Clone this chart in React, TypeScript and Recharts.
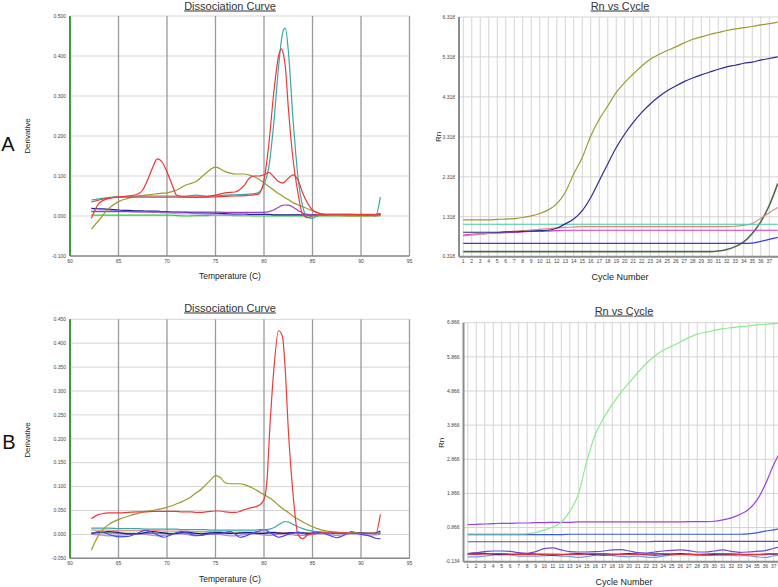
import React from 'react';
import { LineChart, Line, XAxis, YAxis, CartesianGrid } from 'recharts';

// ---------- Panel A : Dissociation curve ----------
const tempA = [62.2,63,64,65,66,67,67.5,68,68.5,69,69.5,70,70.5,71,72,73,74,75,76,77,78,78.5,79,79.5,80,80.5,81,81.5,81.8,82,82.2,82.5,83,83.5,84,84.5,85,85.5,86,87,88,89,90,91,91.5,92];
const aTeal = [0.040,0.043,0.046,0.048,0.049,0.050,0.050,0.050,0.050,0.050,0.050,0.050,0.050,0.050,0.050,0.052,0.050,0.050,0.052,0.053,0.054,0.055,0.056,0.060,0.078,0.123,0.230,0.373,0.440,0.465,0.470,0.415,0.240,0.098,0.023,-0.003,-0.006,0.000,0.003,0.003,0.003,0.003,0.002,0.002,0.000,0.047];
const aRedPeak = [-0.006,0.032,0.044,0.047,0.047,0.047,0.047,0.047,0.047,0.047,0.047,0.047,0.047,0.047,0.047,0.047,0.047,0.048,0.049,0.050,0.051,0.052,0.053,0.056,0.090,0.180,0.307,0.400,0.418,0.405,0.373,0.273,0.140,0.057,0.003,-0.004,0.000,0.003,0.004,0.004,0.004,0.004,0.004,0.004,0.004,0.006];
const aRedMulti = [0.035,0.040,0.045,0.048,0.050,0.055,0.065,0.090,0.120,0.143,0.135,0.110,0.080,0.052,0.047,0.047,0.048,0.052,0.058,0.060,0.078,0.095,0.100,0.100,0.103,0.109,0.098,0.086,0.083,0.083,0.087,0.094,0.103,0.090,0.057,0.032,0.015,0.008,0.005,0.004,0.004,0.004,0.003,0.003,0.003,0.004];
const aOlive = [-0.033,-0.010,0.019,0.036,0.044,0.050,0.051,0.053,0.054,0.056,0.057,0.058,0.061,0.065,0.078,0.086,0.107,0.122,0.111,0.105,0.105,0.102,0.098,0.091,0.083,0.074,0.065,0.056,0.052,0.048,0.045,0.041,0.033,0.028,0.023,0.018,0.013,0.009,0.005,0.002,0.001,0.000,0.000,0.000,0.000,0.001];
const aPurple = [0.011,0.011,0.011,0.011,0.011,0.010,0.010,0.010,0.010,0.010,0.010,0.010,0.010,0.010,0.010,0.010,0.010,0.010,0.009,0.009,0.009,0.009,0.009,0.009,0.009,0.011,0.015,0.022,0.026,0.027,0.0275,0.027,0.022,0.014,0.007,0.004,0.003,0.003,0.003,0.003,0.003,0.003,0.003,0.003,0.003,0.003];
const aNavy = [0.019,0.018,0.017,0.015,0.014,0.013,0.013,0.012,0.012,0.012,0.011,0.011,0.010,0.010,0.009,0.008,0.008,0.007,0.006,0.005,0.005,0.004,0.004,0.004,0.004,0.004,0.003,0.003,0.003,0.003,0.003,0.003,0.003,0.003,0.003,0.003,0.003,0.003,0.003,0.003,0.003,0.003,0.003,0.003,0.003,0.006];
const aLavender = [0.015,0.015,0.014,0.013,0.012,0.011,0.010,0.010,0.009,0.009,0.008,0.008,0.007,0.006,0.005,0.005,0.004,0.003,0.003,0.003,0.002,0.002,0.002,0.002,0.002,0.002,0.002,0.002,0.002,0.002,0.002,0.002,0.002,0.002,0.002,0.002,0.002,0.002,0.002,0.002,0.002,0.002,0.002,0.002,0.002,0.002];
const aGreen = [0.002,0.002,0.002,0.002,0.002,0.002,0.002,0.002,0.002,0.002,0.002,0.002,0.002,0.001,0.000,0.001,0.001,0.002,0.002,0.001,0.001,0.001,0.000,0.000,0.000,0.000,0.000,0.000,0.000,0.000,0.000,0.000,0.000,0.000,0.000,0.000,0.000,0.000,0.000,0.000,0.000,0.000,0.000,0.001,0.001,0.001];
const dissTempTicks = [60,65,70,75,80,85,90,95];
const dissATicks = [-0.1,0,0.1,0.2,0.3,0.4,0.5];

// ---------- Panel B : Dissociation curve ----------
const tempB = [62.2,63,63.5,64,65,66,67,67.8,68.5,69,69.7,70.5,71,71.5,72,72.5,73,73.5,74,74.5,75,75.5,76,76.5,77,77.5,78,78.5,79,79.5,80,80.3,80.6,81,81.5,81.9,82.2,82.5,83,83.5,84,84.5,85,85.5,86,86.5,87,87.5,88,88.5,89,90,91,91.5,92];
const bRed = [0.033,0.042,0.044,0.045,0.045,0.046,0.047,0.047,0.048,0.048,0.048,0.048,0.048,0.047,0.047,0.047,0.046,0.046,0.047,0.048,0.049,0.049,0.047,0.046,0.046,0.048,0.052,0.055,0.057,0.061,0.073,0.111,0.222,0.341,0.426,0.414,0.341,0.222,0.083,0.000,-0.009,-0.001,0.001,0.002,0.003,0.003,0.003,0.003,0.003,0.003,0.002,0.002,0.002,0.001,0.042];
const bOlive = [-0.033,0.000,0.012,0.021,0.031,0.038,0.044,0.048,0.050,0.052,0.055,0.060,0.064,0.068,0.073,0.079,0.087,0.094,0.104,0.114,0.123,0.119,0.108,0.106,0.106,0.106,0.104,0.100,0.095,0.089,0.083,0.080,0.076,0.070,0.061,0.054,0.050,0.046,0.038,0.032,0.026,0.021,0.016,0.012,0.009,0.007,0.006,0.005,0.004,0.003,0.003,0.002,0.002,0.002,0.002];
const bTeal = [0.013,0.013,0.013,0.013,0.012,0.012,0.012,0.011,0.011,0.011,0.011,0.011,0.011,0.010,0.010,0.010,0.010,0.010,0.010,0.009,0.009,0.009,0.009,0.009,0.009,0.009,0.009,0.009,0.009,0.010,0.010,0.010,0.011,0.014,0.020,0.025,0.027,0.026,0.021,0.016,0.012,0.009,0.007,0.006,0.005,0.004,0.004,0.003,0.003,0.003,0.003,0.002,0.002,0.002,0.002];
const bPink = [0.009,0.009,0.009,0.009,0.008,0.008,0.008,0.008,0.008,0.008,0.007,0.007,0.007,0.007,0.007,0.006,0.006,0.006,0.006,0.006,0.006,0.006,0.005,0.005,0.005,0.005,0.005,0.005,0.005,0.005,0.005,0.005,0.005,0.005,0.004,0.004,0.004,0.004,0.004,0.004,0.004,0.003,0.003,0.003,0.003,0.003,0.003,0.003,0.003,0.003,0.003,0.003,0.003,0.002,0.002];
const bBlue = [0.001,0.006,0.004,0.000,-0.005,-0.004,0.003,0.009,0.004,-0.001,-0.006,0.000,0.004,0.006,0.004,0.000,-0.002,-0.002,0.000,0.001,0.001,0.002,0.004,0.006,0.001,-0.006,-0.004,0.000,0.004,0.007,0.010,0.008,0.004,-0.001,-0.006,-0.004,-0.002,0.000,0.003,0.005,0.003,0.000,0.003,0.006,0.004,0.000,-0.004,-0.007,-0.004,0.001,0.006,0.000,-0.004,-0.008,-0.009];
const bNavy = [0.002,0.004,0.005,0.006,0.004,0.001,0.001,0.004,0.006,0.005,0.003,0.001,0.002,0.004,0.005,0.004,0.002,0.001,0.002,0.003,0.004,0.004,0.003,0.002,0.002,0.003,0.004,0.004,0.003,0.002,0.002,0.003,0.004,0.004,0.003,0.002,0.002,0.003,0.004,0.004,0.003,0.002,0.002,0.003,0.004,0.004,0.003,0.002,0.002,0.003,0.004,0.003,0.002,0.003,0.007];
const bGreen = [0.003,0.003,0.003,0.003,0.002,0.002,0.002,0.002,0.002,0.002,0.002,0.002,0.002,0.002,0.002,0.002,0.002,0.002,0.002,0.002,0.002,0.002,0.002,0.002,0.002,0.002,0.002,0.002,0.002,0.002,0.002,0.002,0.002,0.002,0.002,0.002,0.002,0.002,0.002,0.002,0.002,0.002,0.002,0.002,0.002,0.002,0.002,0.002,0.002,0.002,0.002,0.002,0.002,0.003,0.004];
const bLavender = [0.000,-0.001,-0.002,-0.003,-0.002,0.000,0.001,0.000,-0.002,-0.003,-0.002,0.000,0.001,0.001,0.000,-0.002,-0.003,-0.002,0.000,0.001,0.001,0.000,-0.002,-0.003,-0.003,-0.002,0.000,0.001,0.001,0.000,-0.001,-0.002,-0.002,-0.001,0.000,0.001,0.001,0.000,-0.001,-0.002,-0.002,-0.001,0.000,0.001,0.001,0.000,-0.001,-0.002,-0.001,0.000,0.001,0.000,-0.001,-0.001,0.000];
const dissBTicks = [-0.05,0,0.05,0.1,0.15,0.2,0.25,0.3,0.35,0.4,0.45];

// ---------- Rn vs Cycle ----------
const cycles = [1,2,3,4,5,6,7,8,9,10,11,12,13,14,15,16,17,18,19,20,21,22,23,24,25,26,27,28,29,30,31,32,33,34,35,36,37,38];
const cycleTicks = [1,2,3,4,5,6,7,8,9,10,11,12,13,14,15,16,17,18,19,20,21,22,23,24,25,26,27,28,29,30,31,32,33,34,35,36,37];

const rnAOlive = [1.24,1.24,1.24,1.24,1.25,1.26,1.27,1.30,1.34,1.40,1.49,1.64,1.93,2.39,2.80,3.34,3.76,4.09,4.43,4.68,4.89,5.09,5.26,5.38,5.48,5.57,5.67,5.76,5.82,5.88,5.93,5.98,6.02,6.05,6.08,6.12,6.15,6.19];
const rnANavy = [0.93,0.93,0.93,0.93,0.93,0.94,0.94,0.95,0.96,0.97,0.98,1.03,1.14,1.26,1.47,1.80,2.22,2.64,3.05,3.39,3.68,3.93,4.14,4.32,4.47,4.59,4.70,4.79,4.87,4.94,5.01,5.07,5.11,5.16,5.19,5.24,5.28,5.32];
const rnATeal = [1.13,1.13,1.13,1.13,1.13,1.13,1.13,1.13,1.13,1.13,1.13,1.13,1.13,1.13,1.13,1.13,1.13,1.13,1.13,1.13,1.13,1.13,1.13,1.13,1.13,1.13,1.13,1.13,1.13,1.13,1.13,1.13,1.13,1.13,1.13,1.13,1.13,1.13];
const rnARose = [0.84,0.86,0.88,0.90,0.92,0.94,0.96,0.97,0.985,1.0,1.02,1.04,1.05,1.06,1.07,1.07,1.07,1.07,1.07,1.07,1.07,1.07,1.07,1.07,1.07,1.07,1.07,1.07,1.07,1.07,1.07,1.07,1.08,1.10,1.15,1.28,1.42,1.55];
const rnAMagenta = [0.86,0.88,0.89,0.90,0.91,0.92,0.93,0.94,0.95,0.95,0.96,0.97,0.98,0.98,0.98,0.98,0.98,0.98,0.98,0.98,0.98,0.98,0.98,0.98,0.98,0.98,0.98,0.98,0.98,0.98,0.98,0.98,0.98,0.98,0.98,0.98,0.98,0.98];
const rnABlue = [0.65,0.65,0.65,0.65,0.65,0.65,0.65,0.65,0.65,0.65,0.65,0.65,0.65,0.65,0.65,0.65,0.65,0.65,0.65,0.65,0.65,0.65,0.65,0.65,0.65,0.65,0.65,0.65,0.65,0.65,0.65,0.65,0.65,0.65,0.66,0.70,0.75,0.80];
const rnADarkGreen = [0.445,0.445,0.445,0.445,0.445,0.445,0.445,0.445,0.445,0.445,0.445,0.445,0.445,0.445,0.445,0.445,0.445,0.445,0.445,0.445,0.445,0.445,0.445,0.445,0.445,0.445,0.445,0.445,0.445,0.445,0.46,0.50,0.57,0.69,0.90,1.19,1.60,2.15];
const rnATicks = [0.318,1.318,2.318,3.318,4.318,5.318,6.318];

const rnBGreen = [0.68,0.68,0.68,0.68,0.68,0.68,0.68,0.69,0.72,0.79,0.88,1.02,1.34,1.83,2.81,3.59,4.08,4.47,4.82,5.11,5.40,5.67,5.89,6.06,6.18,6.30,6.43,6.53,6.59,6.64,6.69,6.72,6.75,6.77,6.80,6.82,6.84,6.85];
const rnBPurple = [0.95,0.96,0.97,0.98,0.99,0.99,1.00,1.00,1.01,1.01,1.02,1.02,1.02,1.03,1.03,1.03,1.03,1.03,1.03,1.03,1.03,1.03,1.03,1.03,1.03,1.03,1.04,1.04,1.04,1.05,1.09,1.15,1.25,1.39,1.66,2.13,2.71,3.20];
const rnBBlue = [0.66,0.66,0.66,0.66,0.66,0.66,0.66,0.66,0.66,0.66,0.66,0.66,0.67,0.67,0.67,0.67,0.67,0.67,0.67,0.67,0.67,0.67,0.67,0.67,0.67,0.67,0.67,0.67,0.67,0.67,0.67,0.67,0.67,0.68,0.71,0.76,0.80,0.84];
const rnBGrayPurple = [0.45,0.45,0.45,0.45,0.45,0.45,0.45,0.45,0.45,0.45,0.45,0.45,0.45,0.45,0.45,0.45,0.45,0.45,0.45,0.45,0.45,0.45,0.46,0.46,0.46,0.46,0.46,0.46,0.46,0.46,0.46,0.46,0.46,0.46,0.46,0.46,0.46,0.46];
const rnBViolet = [0.10,0.13,0.16,0.18,0.18,0.17,0.13,0.11,0.16,0.25,0.27,0.21,0.16,0.15,0.15,0.16,0.18,0.21,0.22,0.18,0.13,0.12,0.15,0.18,0.20,0.21,0.19,0.15,0.15,0.18,0.21,0.17,0.14,0.15,0.17,0.19,0.26,0.30];
const rnBRed = [0.08,0.08,0.09,0.10,0.10,0.09,0.08,0.08,0.08,0.09,0.09,0.08,0.08,0.08,0.09,0.10,0.10,0.09,0.08,0.08,0.08,0.09,0.10,0.10,0.09,0.08,0.08,0.08,0.09,0.10,0.10,0.09,0.08,0.08,0.08,0.09,0.10,0.10];
const rnBNavy = [0.10,0.12,0.11,0.09,0.07,0.07,0.09,0.10,0.09,0.07,0.06,0.07,0.09,0.10,0.09,0.07,0.06,0.07,0.09,0.10,0.09,0.07,0.06,0.07,0.09,0.10,0.09,0.07,0.07,0.08,0.09,0.09,0.08,0.07,0.07,0.08,0.09,0.10];
const rnBLightBlue = [0.01,0.01,0.03,0.06,0.08,0.08,0.03,0.03,0.03,0.04,0.05,0.03,0.02,-0.01,0.02,0.06,0.08,0.05,0.02,0.01,0.03,0.00,-0.01,0.03,0.06,0.08,0.07,0.06,0.05,0.05,0.05,0.05,0.04,0.04,0.01,-0.01,0.04,0.06];
const rnBTicks = [-0.134,0.866,1.866,2.866,3.866,4.866,5.866,6.866];

// ---------- helpers ----------
type Series = { key: string; color: string; values: number[]; width?: number };

const buildRows = (xs: number[], series: Series[]) =>
  xs.map((x, i) => {
    const row: Record<string, number> = { x };
    series.forEach((s) => { row[s.key] = s.values[i]; });
    return row;
  });

const FONT = '"Liberation Sans", Arial, Helvetica, sans-serif';
const tickStyle = { fontSize: 5, fill: '#444', fontFamily: FONT };

const seriesDissA: Series[] = [
  { key: 'green', color: '#2fd02f', values: aGreen },
  { key: 'lavender', color: '#b0a4e4', values: aLavender },
  { key: 'navy', color: '#22229a', values: aNavy },
  { key: 'purple', color: '#9a3ec8', values: aPurple },
  { key: 'olive', color: '#9c9a2c', values: aOlive },
  { key: 'teal', color: '#3aa6a6', values: aTeal },
  { key: 'redMulti', color: '#ee3434', values: aRedMulti },
  { key: 'redPeak', color: '#f03a3a', values: aRedPeak },
];
const seriesDissB: Series[] = [
  { key: 'lavender', color: '#b08ae0', values: bLavender },
  { key: 'green', color: '#30c030', values: bGreen },
  { key: 'pink', color: '#f09090', values: bPink },
  { key: 'navy', color: '#1a1a80', values: bNavy },
  { key: 'blue', color: '#4848ee', values: bBlue },
  { key: 'teal', color: '#3aa6a6', values: bTeal },
  { key: 'olive', color: '#9c9a2c', values: bOlive },
  { key: 'red', color: '#f03a3a', values: bRed },
];
const seriesRnA: Series[] = [
  { key: 'darkGreen', color: '#4c6a4c', values: rnADarkGreen, width: 1.6 },
  { key: 'blue', color: '#3a3ae0', values: rnABlue },
  { key: 'magenta', color: '#d834c4', values: rnAMagenta },
  { key: 'rose', color: '#d88a8a', values: rnARose },
  { key: 'teal', color: '#44c89c', values: rnATeal },
  { key: 'navy', color: '#2c2c8c', values: rnANavy },
  { key: 'olive', color: '#9c9a30', values: rnAOlive },
];
const seriesRnB: Series[] = [
  { key: 'lightBlue', color: '#6f9cf0', values: rnBLightBlue },
  { key: 'navy', color: '#1e1e78', values: rnBNavy },
  { key: 'red', color: '#ee3030', values: rnBRed },
  { key: 'violet', color: '#6a4cd4', values: rnBViolet },
  { key: 'grayPurple', color: '#6a4c9a', values: rnBGrayPurple },
  { key: 'blue', color: '#3a5ae0', values: rnBBlue },
  { key: 'purple', color: '#9a40e6', values: rnBPurple },
  { key: 'green', color: '#8aec8a', values: rnBGreen },
];

type ChartProps = {
  left: number; top: number; width: number; height: number;
  plotLeft: number; plotTop: number; plotRight: number; plotBottom: number;
  xs: number[]; series: Series[];
  xDomain: [number, number]; xTicks: number[];
  yDomain: [number, number]; yTicks: number[];
  kind: 'diss' | 'rn';
};

const Panel = ({ left, top, width, height, plotLeft, plotTop, plotRight, plotBottom, xs, series, xDomain, xTicks, yDomain, yTicks, kind }: ChartProps) => {
  const rows = buildRows(xs, series);
  const isDiss = kind === 'diss';
  return (
    <div style={{ position: 'absolute', left, top, width, height }}>
      <LineChart width={width} height={height} data={rows} margin={{ top: plotTop, right: plotRight, left: 0, bottom: 0 }}>
        {isDiss ? (
          <>
            <CartesianGrid horizontal={true} vertical={false} stroke="#d6d6d6" strokeWidth={1} />
            <CartesianGrid horizontal={false} vertical={true} stroke="#9a9a9a" strokeWidth={1.3} />
          </>
        ) : (
          <CartesianGrid stroke="#d4d4d4" strokeWidth={1} />
        )}
        <XAxis
          type="number"
          dataKey="x"
          domain={xDomain}
          ticks={xTicks}
          interval={0}
          height={plotBottom}
          tickLine={false}
          tickSize={0}
          tickMargin={3}
          axisLine={{ stroke: isDiss ? '#8a8a8a' : '#8c8c8c', strokeWidth: isDiss ? 1.5 : 2 }}
          tick={tickStyle}
          allowDataOverflow
        />
        <YAxis
          type="number"
          domain={yDomain}
          ticks={yTicks}
          interval={0}
          width={plotLeft}
          tickLine={false}
          tickSize={0}
          tickMargin={4}
          axisLine={{ stroke: isDiss ? '#3c9c3c' : '#8c8c8c', strokeWidth: 2 }}
          tick={tickStyle}
          tickFormatter={(v: number) => v.toFixed(3)}
          allowDataOverflow
        />
        {series.map((s) => (
          <Line
            key={s.key}
            type="monotone"
            dataKey={s.key}
            stroke={s.color}
            strokeWidth={s.width ?? 1.2}
            dot={false}
            isAnimationActive={false}
          />
        ))}
      </LineChart>
    </div>
  );
};

const Txt = ({ x, y, size, children, rotate, underline, color }: any) => (
  <div
    style={{
      position: 'absolute', left: x, top: y,
      transform: `translate(-50%, -50%)${rotate ? ' rotate(-90deg)' : ''}`,
      fontSize: size, fontFamily: FONT, color: color ?? '#222',
      whiteSpace: 'nowrap', lineHeight: 1,
      textDecoration: underline ? 'underline' : 'none',
    }}
  >
    {children}
  </div>
);

export default function App() {
  return (
    <div style={{ position: 'fixed', left: 0, top: 0, width: 778, height: 587, overflow: 'hidden', background: '#fff' }}>
      {/* Panel A dissociation */}
      <Panel
        left={0} top={0} width={420} height={290}
        plotLeft={70} plotTop={16} plotRight={10.5} plotBottom={34}
        xs={tempA} series={seriesDissA}
        xDomain={[60, 95]} xTicks={dissTempTicks}
        yDomain={[-0.1, 0.5]} yTicks={dissATicks} kind="diss"
      />
      {/* Panel B dissociation */}
      <Panel
        left={0} top={295} width={420} height={292}
        plotLeft={70} plotTop={24.3} plotRight={10.5} plotBottom={28.7}
        xs={tempB} series={seriesDissB}
        xDomain={[60, 95]} xTicks={dissTempTicks}
        yDomain={[-0.05, 0.45]} yTicks={dissBTicks} kind="diss"
      />
      {/* Panel A Rn */}
      <Panel
        left={380} top={0} width={440} height={290}
        plotLeft={79} plotTop={17} plotRight={21} plotBottom={33.3}
        xs={cycles} series={seriesRnA}
        xDomain={[0.5, 40.5]} xTicks={cycleTicks}
        yDomain={[0.318, 6.318]} yTicks={rnATicks} kind="rn"
      />
      {/* Panel B Rn */}
      <Panel
        left={380} top={295} width={440} height={292}
        plotLeft={83.5} plotTop={27.7} plotRight={16.5} plotBottom={25.3}
        xs={cycles} series={seriesRnB}
        xDomain={[0.5, 40.5]} xTicks={cycleTicks}
        yDomain={[-0.134, 6.866]} yTicks={rnBTicks} kind="rn"
      />

      <Txt x={230} y={6} size={11} underline color="#333">Dissociation Curve</Txt>
      <Txt x={620} y={6} size={11} underline color="#333">Rn vs Cycle</Txt>
      <Txt x={230} y={308} size={11} underline color="#333">Dissociation Curve</Txt>
      <Txt x={624} y={311} size={11} underline color="#333">Rn vs Cycle</Txt>

      <Txt x={28} y={136} size={8} rotate>Derivative</Txt>
      <Txt x={28} y={440} size={8} rotate>Derivative</Txt>
      <Txt x={230} y={276} size={8.5}>Temperature (C)</Txt>
      <Txt x={230} y={579} size={8.5}>Temperature (C)</Txt>
      <Txt x={439} y={137} size={8} rotate>Rn</Txt>
      <Txt x={442} y={443} size={8} rotate>Rn</Txt>
      <Txt x={620} y={277} size={9}>Cycle Number</Txt>
      <Txt x={624} y={582} size={9}>Cycle Number</Txt>

      <Txt x={8} y={144} size={20} color="#111">A</Txt>
      <Txt x={9} y={442} size={20} color="#111">B</Txt>
    </div>
  );
}
